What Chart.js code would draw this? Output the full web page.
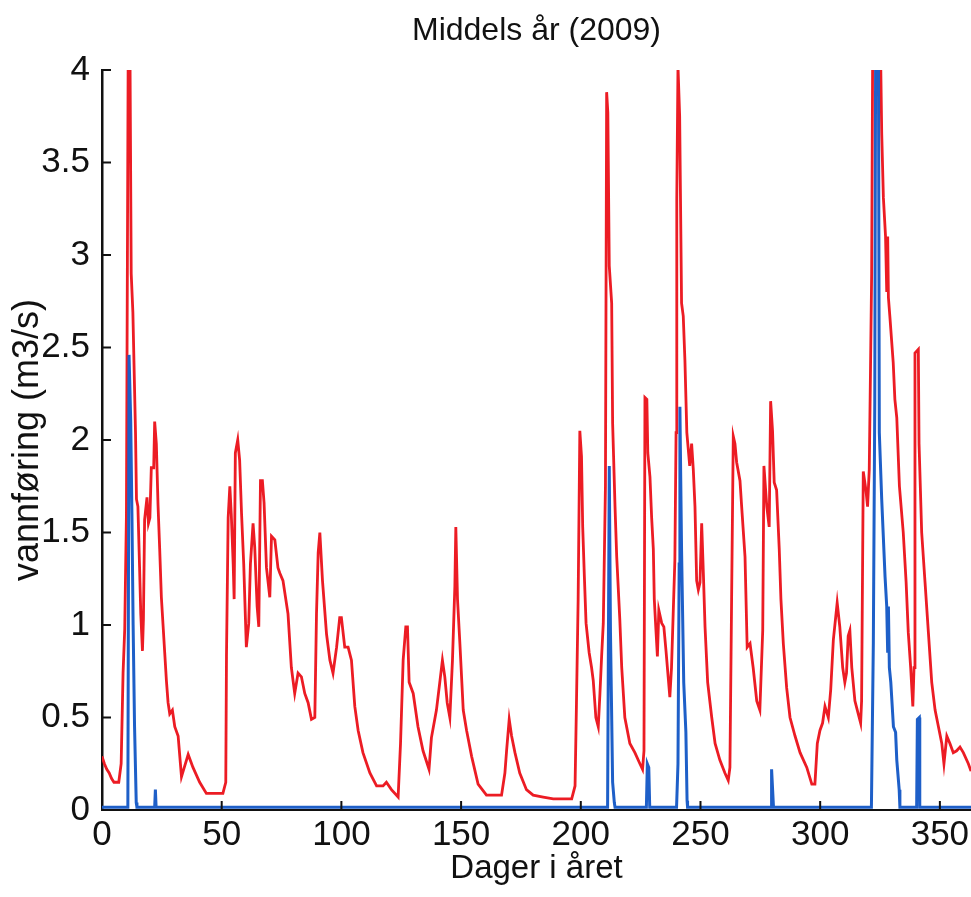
<!DOCTYPE html>
<html>
<head>
<meta charset="utf-8">
<title>Middels år (2009)</title>
<script src="https://cdn.jsdelivr.net/npm/chart.js@4.4.0/dist/chart.umd.min.js"></script>
<style>
  html, body { margin: 0; padding: 0; background: #fff; }
  #wrap { width: 971px; height: 897px; }
</style>
</head>
<body>
<div id="wrap"><canvas id="chart" width="971" height="897"></canvas></div>
<script>
// Day of year (x) and discharge in m3/s (y).
// Values above 4 are clipped by the axis, like in the original.
const redDays = [
  0, 1, 2, 3, 4, 5, 7, 8, 8.8, 9.5, 10.2, 11, 11.6, 12.2, 12.9, 14, 14.4, 15, 15.7, 16.2,
  16.9, 17.3, 17.8, 18.8, 19.4, 20, 20.6, 21.6, 22, 22.7, 23.4, 24.1, 24.8, 26.2, 26.9, 27.6,
  28.3, 29.4, 30.4, 31.8, 32.5, 33.2, 34.6, 36, 38, 40.8, 43.6, 50.5, 51.7, 52, 52.7, 53.4,
  54, 54.8, 55.2, 55.7, 56.7, 57.5, 58.3, 59.2, 59.9, 60.3, 61.3, 62, 63.1, 63.8, 64.8, 65.5,
  66.2, 67, 67.7, 68.7, 70.1, 70.8, 72.2, 73.5, 74.3, 75.6, 77.7, 79.1, 80.5, 81.9, 83.3, 84.7,
  86.1, 87.5, 88.9, 89.6, 90.3, 91, 92.1, 93.8, 95.2, 96.5, 98, 99.3, 100, 101.4, 102.8, 104.2,
  105.6, 107, 109, 111.9, 114.7, 117.4, 118.8, 120.9, 123.7, 124.7, 125.8, 126.9, 127.6, 128.3,
  130, 132, 134.1, 136.6, 137.6, 139.7, 141.1, 142.2, 143.2, 144.2, 145.3, 146.4, 147.4, 147.8,
  148.5, 149.5, 150.9, 152.3, 154.4, 157.1, 160.6, 166.9, 168.3, 169, 170.1, 171.1, 172.5, 174.5,
  177.3, 180.1, 184.3, 188.5, 196.2, 197.6, 198.2, 198.9, 199.6, 200.3, 200.8, 201.5, 202.2, 203.5,
  204.5, 205.2, 206.3, 207.3, 208, 208.7, 209.4, 210.3, 210.8, 211.3, 211.9, 212.9, 213.3, 214.3,
  215, 216.3, 217.1, 218.4, 220.5, 222.6, 224.7, 225.8, 226.4, 226.8, 227.6, 228, 228.9, 229.6,
  230.3, 230.7, 231.4, 232, 232.6, 233.8, 234.7, 235.6, 236.5, 237.2, 237.9, 238.6, 239.3, 239.8,
  240.1, 240.6, 241.3, 242.1, 242.8, 243.5, 244.3, 245.5, 246.3, 247, 247.7, 248.4, 249.1, 249.8,
  250.5, 251.2, 251.9, 253, 254.7, 256.1, 258.1, 260.2, 261.6, 262.3, 263, 263.7, 264.4, 265.1,
  266.5, 267.2, 268.6, 269.5, 270.7, 272, 273.5, 274.8, 276, 276.5, 277.7, 278.7, 279.3, 280.1,
  280.8, 281.8, 282.9, 283.6, 284.6, 286, 287.4, 289.5, 291.6, 294.4, 296.5, 297.8, 298.8, 299.9,
  301, 302, 303.4, 304.4, 305.5, 307.1, 308.2, 309.4, 310.3, 311, 311.7, 312.4, 313.2, 314.5,
  315.9, 316.9, 317.3, 318, 319.1, 319.8, 320.5, 321, 321.5, 322, 325, 325.7, 326.4, 327.3,
  327.8, 328.2, 328.5, 329.1, 330.5, 331.2, 332, 333.1, 334.7, 335.9, 336.8, 337.8, 338.7, 339.2,
  339.6, 341, 341.3, 342.4, 343.8, 345.2, 346.6, 348, 349.4, 350.8, 351.7, 352.9, 354.2, 355.6,
  357, 358.4, 359.8, 361.9, 363
];
const redFlow = [
  0.29, 0.25, 0.22, 0.2, 0.17, 0.15, 0.15, 0.25, 0.74, 0.98, 1.59, 4.3, 4.3, 2.9, 2.69, 2.04, 1.68, 1.64, 1.31, 1.06,
  0.86, 1.03, 1.57, 1.69, 1.55, 1.58, 1.85, 1.85, 2.1, 1.98, 1.65, 1.41, 1.15, 0.85, 0.7, 0.58,
  0.52, 0.54, 0.45, 0.4, 0.29, 0.18, 0.24, 0.3, 0.23, 0.15, 0.09, 0.09, 0.15, 0.83, 1.58, 1.75,
  1.6, 1.33, 1.14, 1.93, 2.0, 1.89, 1.6, 1.33, 1.04, 0.88, 1.01, 1.33, 1.55, 1.42, 1.1, 0.99,
  1.78, 1.78, 1.66, 1.31, 1.15, 1.48, 1.46, 1.31, 1.28, 1.24, 1.06, 0.77, 0.63, 0.74, 0.72, 0.63,
  0.58, 0.49, 0.5, 1.06, 1.39, 1.5, 1.24, 0.95, 0.81, 0.74, 0.88, 1.04, 1.04, 0.88, 0.88, 0.81,
  0.56, 0.43, 0.31, 0.2, 0.13, 0.13, 0.15, 0.11, 0.07, 0.36, 0.81, 0.99, 0.99, 0.69,
  0.63, 0.45, 0.32, 0.22, 0.39, 0.54, 0.69, 0.81, 0.72, 0.58, 0.5, 0.81, 1.21, 1.53,
  1.14, 0.9, 0.54, 0.43, 0.29, 0.14, 0.08, 0.08, 0.2, 0.32, 0.49, 0.4, 0.31, 0.2,
  0.11, 0.08, 0.07, 0.06, 0.06, 0.13, 0.58, 1.14, 2.05, 1.91, 1.53, 1.26, 1.01, 0.85,
  0.77, 0.7, 0.5, 0.45, 0.63, 0.83, 1.01, 1.75, 3.88, 3.77, 2.94, 2.74, 2.09, 1.64,
  1.37, 1.03, 0.77, 0.5, 0.36, 0.31, 0.25, 0.22, 0.32, 2.23, 2.22, 1.93, 1.8, 1.58,
  1.41, 1.14, 0.97, 0.83, 1.08, 1.01, 0.99, 0.86, 0.72, 0.61, 0.77, 1.06, 1.35, 2.04,
  3.3, 4.02, 3.75, 2.74, 2.67, 2.43, 2.04, 1.86, 1.98, 1.84, 1.64, 1.24, 1.19, 1.23,
  1.55, 1.28, 0.99, 0.69, 0.5, 0.36, 0.27, 0.2, 0.16, 0.23, 1.14, 2.02, 1.98, 1.88,
  1.78, 1.64, 1.37, 0.88, 0.9, 0.77, 0.59, 0.54, 0.97, 1.86, 1.64, 1.53, 2.21, 2.05,
  1.77, 1.73, 1.41, 1.14, 0.9, 0.66, 0.5, 0.4, 0.31, 0.23, 0.14, 0.14, 0.36, 0.43,
  0.47, 0.56, 0.5, 0.65, 0.92, 1.12, 0.99, 0.77, 0.69, 0.74, 0.94, 0.97, 0.77, 0.59,
  0.52, 0.47, 0.59, 1.83, 1.73, 1.64, 1.84, 2.36, 2.9, 4.3, 4.3, 3.66, 3.31, 3.1,
  2.8, 3.1, 2.77, 2.67, 2.42, 2.22, 2.12, 1.75, 1.5, 1.23, 0.96, 0.77, 0.56, 0.77,
  2.47, 2.49, 1.98, 1.5, 1.23, 0.96, 0.69, 0.54, 0.45, 0.36, 0.25, 0.4, 0.36, 0.31,
  0.32, 0.34, 0.31, 0.25, 0.21
];

const blueDays = [
  0, 10.8, 11.3, 12, 12.5, 13, 13.6, 14.3, 14.6, 22, 22.3, 22.6, 211.2, 211.9, 212.4, 213.3,
  214, 214.3, 227.4, 227.8, 228.4, 228.8, 240, 240.6, 241.1, 241.4, 242.1, 243, 243.9, 244.4,
  244.6, 279.5, 279.7, 280.5, 321.4, 322.2, 322.8, 323.2, 324.3, 324.7, 325.7, 327.1, 327.8, 328.2,
  328.5, 328.9, 329.5, 330.6, 331.5, 332, 333, 333.3, 340.3, 340.6, 341.4, 341.6, 363
];
const blueFlow = [
  0.015, 0.015, 2.46, 2.1, 1.6, 1.0, 0.45, 0.04, 0.015, 0.015, 0.11, 0.015, 0.015, 1.86, 0.96, 0.15,
  0.04, 0.015, 0.015, 0.25, 0.23, 0.015, 0.015, 0.25, 1.33, 2.18, 1.4, 0.69, 0.42, 0.05,
  0.015, 0.015, 0.22, 0.015, 0.015, 0.9, 2.2, 4.3, 4.3, 2.04, 1.68, 1.26, 1.1, 0.85,
  1.1, 0.77, 0.69, 0.45, 0.42, 0.27, 0.11, 0.015, 0.015, 0.49, 0.5, 0.015, 0.015
];

const xTickValues = [0, 50, 100, 150, 200, 250, 300, 350];
const yTickValues = [0, 0.5, 1, 1.5, 2, 2.5, 3, 3.5, 4];

const toPoints = (days, flow) => days.map((d, i) => ({ x: d, y: flow[i] }));

// MATLAB-style tick marks pointing into the plot
const inwardTicks = {
  id: 'inwardTicks',
  afterDraw(chart) {
    const { ctx, chartArea, scales } = chart;
    ctx.save();
    ctx.strokeStyle = '#111';
    ctx.lineWidth = 2;
    ctx.beginPath();
    yTickValues.forEach(v => {
      if (v === 0) return;
      const y = scales.y.getPixelForValue(v);
      ctx.moveTo(chartArea.left, y);
      ctx.lineTo(chartArea.left + 9, y);
    });
    xTickValues.forEach(v => {
      if (v === 0) return;
      const x = scales.x.getPixelForValue(v);
      ctx.moveTo(x, chartArea.bottom);
      ctx.lineTo(x, chartArea.bottom - 9);
    });
    ctx.stroke();
    ctx.restore();
  }
};

Chart.defaults.font.family = "'Liberation Sans', Arial, sans-serif";
Chart.defaults.color = '#111';

new Chart(document.getElementById('chart'), {
  type: 'line',
  data: {
    datasets: [
      {
        label: 'blue',
        data: toPoints(blueDays, blueFlow),
        borderColor: 'rgb(30, 95, 200)',
        borderWidth: 3,
        pointRadius: 0,
        tension: 0,
        fill: false
      },
      {
        label: 'red',
        data: toPoints(redDays, redFlow),
        borderColor: 'rgb(236, 28, 36)',
        borderWidth: 2.8,
        pointRadius: 0,
        tension: 0,
        fill: false
      }
    ]
  },
  options: {
    responsive: false,
    animation: false,
    layout: { padding: 0 },
    plugins: {
      legend: { display: false },
      tooltip: { enabled: false },
      title: {
        display: true,
        fullSize: false,   // centre over the plot area, as MATLAB does
        text: 'Middels år (2009)',
        font: { size: 32, weight: 'normal' },
        color: '#111',
        padding: { top: 12, bottom: 19.6 }
      }
    },
    scales: {
      x: {
        type: 'linear',
        min: 0,
        max: 363,
        afterBuildTicks: s => { s.ticks = xTickValues.map(v => ({ value: v })); },
        afterFit: s => { s.height = 87; s.paddingLeft = 0; s.paddingRight = 0; },
        ticks: { font: { size: 35 }, padding: 4, maxRotation: 0, autoSkip: false, color: '#111',
                 callback: v => String(v) },
        grid: { display: false, drawTicks: false },
        border: { display: true, color: '#111', width: 2 },
        title: {
          display: true,
          text: 'Dager i året',
          font: { size: 33 },
          color: '#111',
          padding: { top: 0, bottom: 8 }
        }
      },
      y: {
        type: 'linear',
        min: 0,
        max: 4,
        afterBuildTicks: s => { s.ticks = yTickValues.map(v => ({ value: v })); },
        afterFit: s => { s.width = 102; s.paddingTop = 0; s.paddingBottom = 0; },
        ticks: { font: { size: 35 }, padding: 12, color: '#111', callback: v => String(v) },
        grid: { display: false, drawTicks: false },
        border: { display: true, color: '#111', width: 2.5 },
        title: {
          display: true,
          text: 'vannføring (m3/s)',
          font: { size: 36 },
          color: '#111',
          padding: { top: 6, bottom: 0 }
        }
      }
    }
  },
  plugins: [inwardTicks]
});
</script>
</body>
</html>
